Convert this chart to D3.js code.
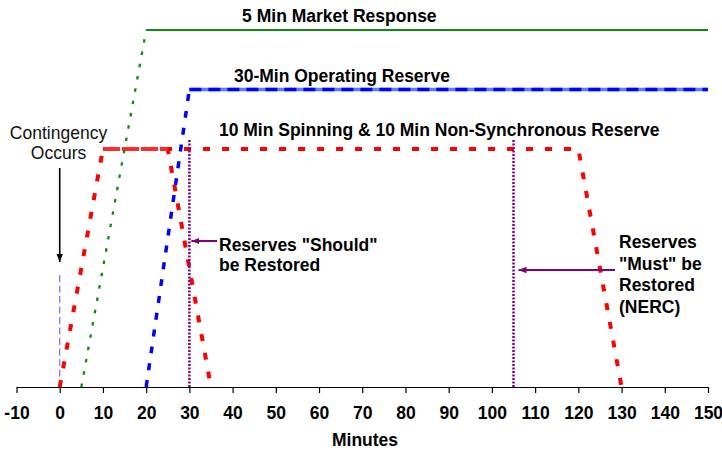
<!DOCTYPE html>
<html><head><meta charset="utf-8">
<script src="https://cdn.jsdelivr.net/npm/d3@7"></script>
<style>body{margin:0;background:#fff}svg text{font-family:Arial,"Liberation Sans",sans-serif}</style>
</head><body><script>
// ---- data (minutes, reserve level) ----
const xTickValues = [-10,0,10,20,30,40,50,60,70,80,90,100,110,120,130,140,150];
const market5Rise = [[5,0],[20,150]];
const market5Flat = [[20,150],[150,150]];
const op30Rise = [[20,0],[30,125]];
const op30Flat = [[30,125],[150,125]];
const spin10Early = [[10,100],[25,100],[35,0]];
const spin10Main = [[0,0],[10,100],[120,100],[130,0]];
const contingencyLine = [[0,0],[0,48]];
const restoreMinutes = [30,105];
const restoreTop = 104;
const seriesLabels = [
  {text:"5 Min Market Response", m:64.7, v:150, dy:-8.5},
  {text:"30-Min Operating Reserve", m:65.3, v:125, dy:-8},
  {text:"10 Min Spinning & 10 Min Non-Synchronous Reserve", m:87.8, v:100, dy:-13}
];

const W=722,H=452;
const svg=d3.select("body").append("svg").attr("width",W).attr("height",H);
const x=d3.scaleLinear().domain([-10,150]).range([16.5,708]);
const y=d3.scaleLinear().domain([0,150]).range([387,30]);
const line=d3.line().x(d=>x(d[0])).y(d=>y(d[1]));

// axis
const ax=svg.append("g").attr("transform",`translate(0,${y(0)})`)
  .call(d3.axisBottom(x).tickValues(xTickValues).tickSize(6).tickSizeOuter(0).tickFormat(d3.format("d")));
ax.select(".domain").attr("stroke","#000").attr("stroke-width",1.2);
ax.selectAll(".tick line").attr("stroke","#000").attr("stroke-width",1.2);
ax.selectAll(".tick text").attr("y",32).attr("dy",0).attr("font-size",17.5).attr("font-weight","bold")
  .attr("fill","#000").style("font-family","Arial, 'Liberation Sans', sans-serif")
  .text(d=>d<0?"-"+Math.abs(d):d);
svg.append("text").attr("x",365).attr("y",446).attr("text-anchor","middle")
  .attr("font-size",17.5).attr("font-weight","bold").text("Minutes");

// contingency thin line
svg.append("path").attr("d",line(contingencyLine)).attr("fill","none")
  .attr("stroke","#6f6fff").attr("stroke-width",1.2).attr("stroke-dasharray","7,3.5");

// red lines
svg.append("path").attr("d",line(spin10Main)).attr("fill","none")
  .attr("stroke","#ff0000").attr("stroke-width",4).attr("stroke-dasharray","7,12");
svg.append("path").attr("d",line(spin10Early)).attr("fill","none")
  .attr("stroke","#ff0000").attr("stroke-width",4).attr("stroke-dasharray","7,12")
  .attr("stroke-dashoffset",-6);
svg.append("path").attr("d",line([spin10Early[0],spin10Early[1]])).attr("fill","none")
  .attr("stroke","#ff2a2a").attr("stroke-width",4).attr("stroke-dasharray","17,2");

// green
svg.append("path").attr("d",line(market5Rise)).attr("fill","none")
  .attr("stroke","#0f8a0f").attr("stroke-width",2.3).attr("stroke-dasharray","3.5,9");
svg.append("path").attr("d",line(market5Flat)).attr("fill","none")
  .attr("stroke","#0f8a0f").attr("stroke-width",2);

// blue
svg.append("path").attr("d",line(op30Rise)).attr("fill","none")
  .attr("stroke","#0000ff").attr("stroke-width",3.5).attr("stroke-dasharray","7,10");
svg.append("path").attr("d",line(op30Flat)).attr("fill","none")
  .attr("stroke","#5f7bff").attr("stroke-width",3.5);
svg.append("path").attr("d",line(op30Flat)).attr("fill","none")
  .attr("stroke","#0000ff").attr("stroke-width",3.5).attr("stroke-dasharray","12,7");

// purple restore lines
restoreMinutes.forEach(m=>{
  svg.append("path").attr("d",line([[m,0],[m,restoreTop]])).attr("fill","none")
    .attr("stroke","#800080").attr("stroke-width",2.5).attr("stroke-dasharray","2,1.5");
});

// markers
const defs=svg.append("defs");
defs.append("marker").attr("id","mk").attr("viewBox","0 0 10 10").attr("refX",10).attr("refY",5)
  .attr("markerWidth",8).attr("markerHeight",9).attr("orient","auto").attr("markerUnits","userSpaceOnUse")
  .append("path").attr("d","M0,1L10,5L0,9Z").attr("fill","#000");
defs.append("marker").attr("id","mp").attr("viewBox","0 0 10 10").attr("refX",10).attr("refY",5)
  .attr("markerWidth",8).attr("markerHeight",8).attr("orient","auto").attr("markerUnits","userSpaceOnUse")
  .append("path").attr("d","M0,1L10,5L0,9Z").attr("fill","#800080");

// contingency arrow + text
svg.append("line").attr("x1",x(0)).attr("x2",x(0)).attr("y1",168).attr("y2",262)
  .attr("stroke","#000").attr("stroke-width",1.6).attr("marker-end","url(#mk)");
const ct=svg.append("text").attr("text-anchor","middle").attr("font-size",17.5).attr("fill","#111");
ct.append("tspan").attr("x",58.5).attr("y",138.5).text("Contingency");
ct.append("tspan").attr("x",58.5).attr("y",158.5).text("Occurs");

// restore arrows
svg.append("line").attr("x1",217).attr("x2",x(30)+2).attr("y1",241).attr("y2",241)
  .attr("stroke","#800080").attr("stroke-width",2).attr("marker-end","url(#mp)");
const st=svg.append("text").attr("font-size",17.5).attr("font-weight","bold").attr("fill","#000");
st.append("tspan").attr("x",219).attr("y",251).text('Reserves "Should"');
st.append("tspan").attr("x",219).attr("y",271).text("be Restored");

svg.append("line").attr("x1",615).attr("x2",x(105)+5).attr("y1",270).attr("y2",270)
  .attr("stroke","#800080").attr("stroke-width",2).attr("marker-end","url(#mp)");
const mt=svg.append("text").attr("font-size",17.5).attr("font-weight","bold").attr("fill","#000");
['Reserves','"Must" be','Restored','(NERC)'].forEach((t,i)=>
  mt.append("tspan").attr("x",619).attr("y",248+i*21.7).text(t));

// series labels
seriesLabels.forEach(l=>{
  svg.append("text").attr("x",x(l.m)).attr("y",y(l.v)+l.dy).attr("text-anchor","middle")
    .attr("font-size",17.5).attr("font-weight","bold").attr("fill","#000").text(l.text);
});
</script></body></html>
